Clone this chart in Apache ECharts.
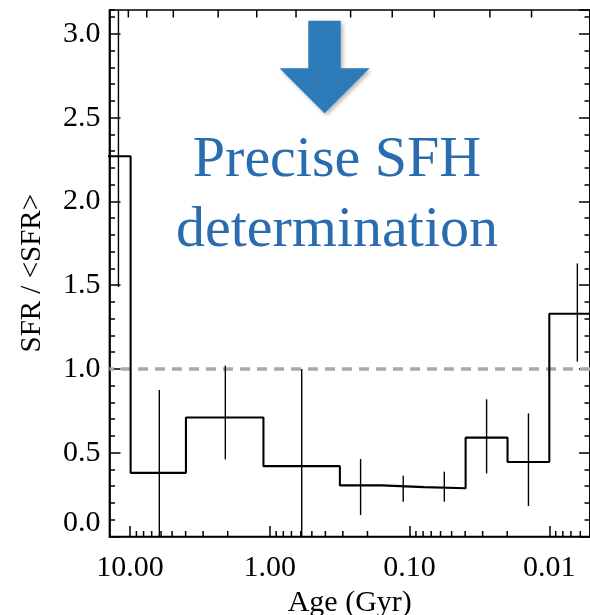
<!DOCTYPE html>
<html><head><meta charset="utf-8">
<script src="https://cdn.jsdelivr.net/npm/echarts@6/dist/echarts.min.js"></script>
<style>html,body{margin:0;padding:0;background:#fff}#c{width:590px;height:615px}</style>
</head><body><div id="c"></div>
<script>
// Bin edges (age in Gyr) and SFR / <SFR> values of each bin
const binEdges = [14.9, 9.9, 3.98, 1.11, 0.315, 0.158, 0.0785, 0.0397, 0.0199, 0.0100, 0.00398];
const sfrValues = [2.27, 0.38, 0.71, 0.42, 0.305, 0.295, 0.288, 0.59, 0.445, 1.33];
// Error bars: age position, lower and upper ends
const errAges = [12.1, 6.17, 2.08, 0.591, 0.224, 0.111, 0.0564, 0.0281, 0.0141, 0.0063];
const errLow  = [1.49, -0.2, 0.46, -0.2, 0.128, 0.208, 0.208, 0.377, 0.182, 1.044];
const errHigh = [3.5, 0.875, 1.02, 1.0, 0.463, 0.363, 0.387, 0.819, 0.735, 1.63];
// Reference level
const meanLevel = 1.0;
// Axis ticks
const xMinorTicks = [9, 8, 7, 6, 5, 4, 3, 2, 0.9, 0.8, 0.7, 0.6, 0.5, 0.4, 0.3, 0.2,
  0.09, 0.08, 0.07, 0.06, 0.05, 0.04, 0.03, 0.02, 0.009, 0.008, 0.007, 0.006];
const topTicks = [10.28, 7.59, 4.90, 2.34, 1.24, 0.649, 0.264, 0.133, 0.0665, 0.0266, 0.0134];
const xRange = [0.005115, 14.02];
const yRange = [0, 3.143];

const FONT = 'Liberation Serif';
const INK = '#000';

const stepPts = [];
sfrValues.forEach((v, i) => { stepPts.push([binEdges[i], v]); stepPts.push([binEdges[i + 1], v]); });
const errData = errAges.map((a, i) => [a, errLow[i], errHigh[i]]);

const chart = echarts.init(document.getElementById('c'), null, {renderer: 'canvas'});

function yAxisDef(pos, interval, tickLen, withLabels, withLine) {
  return {
    type: 'value', position: pos, min: yRange[0], max: yRange[1], interval: interval,
    axisLine: {show: withLine, lineStyle: {color: INK, width: 1.7}},
    axisTick: {show: true, inside: true, length: tickLen, lineStyle: {color: INK, width: 1.5}},
    axisLabel: withLabels ? {
      show: true, showMaxLabel: false, margin: 9, color: INK, fontFamily: FONT, fontSize: 30,
      formatter: v => v === 0 ? '{z|0.0}' : v.toFixed(1),
      rich: {z: {fontFamily: FONT, fontSize: 30, color: INK, padding: [0, 0, 27, 0]}}
    } : {show: false},
    splitLine: {show: false},
    name: withLabels ? 'SFR / <SFR>' : '',
    nameLocation: 'middle', nameGap: 63,
    nameTextStyle: {fontFamily: FONT, fontSize: 29, color: INK}
  };
}

const option = {
  animation: false,
  grid: {left: 109.5, right: 0, top: 10, bottom: 78.5, containLabel: false, outerBoundsMode: 'none',
    show: true, borderColor: INK, borderWidth: 1.7},
  xAxis: [{
    type: 'log', logBase: 10, min: xRange[0], max: xRange[1], inverse: true,
    axisLine: {show: true, lineStyle: {color: INK, width: 1.7}},
    axisTick: {show: true, inside: true, length: 10.5, lineStyle: {color: INK, width: 1.5}},
    axisLabel: {show: true, interval: 0, showMinLabel: false, showMaxLabel: false, margin: 17,
      color: INK, fontFamily: FONT, fontSize: 30, formatter: v => Number(v).toFixed(2)},
    splitLine: {show: false},
    name: 'Age (Gyr)', nameLocation: 'middle', nameGap: 47,
    nameTextStyle: {fontFamily: FONT, fontSize: 30, color: INK}
  }],
  yAxis: [
    yAxisDef('left', 0.5, 11, true, true),
    yAxisDef('left', 0.1, 5.5, false, false),
    yAxisDef('right', 0.5, 11, false, true),
    yAxisDef('right', 0.1, 5.5, false, false)
  ],
  series: [
    {
      type: 'line', data: stepPts, symbol: 'none', clip: true,
      lineStyle: {color: INK, width: 2.1}, z: 5,
      markLine: {
        silent: true, symbol: ['none', 'none'], label: {show: false},
        lineStyle: {type: [10, 7], color: '#aaaaaa', width: 3.5},
        data: [{yAxis: meanLevel}]
      }
    },
    {
      type: 'custom', data: errData, encode: {x: 0, y: [1, 2]}, z: 6,
      renderItem: (params, api) => {
        const cs = params.coordSys;
        const p1 = api.coord([api.value(0), api.value(1)]);
        const p2 = api.coord([api.value(0), api.value(2)]);
        const yb = cs.y + cs.height, yt = cs.y;
        return {type: 'line', shape: {x1: p1[0], y1: Math.min(p1[1], yb), x2: p2[0], y2: Math.max(p2[1], yt)},
          style: {stroke: INK, lineWidth: 1.4}};
      }
    },
    {
      type: 'custom', data: xMinorTicks.map(v => [v, 1]), encode: {x: 0, y: 1}, z: 6,
      renderItem: (params, api) => {
        const cs = params.coordSys;
        const x = api.coord([api.value(0), 1])[0];
        const yb = cs.y + cs.height;
        return {type: 'line', shape: {x1: x, y1: yb, x2: x, y2: yb - 5.5}, style: {stroke: INK, lineWidth: 1.5}};
      }
    },
    {
      type: 'custom', data: topTicks.map(v => [v, 1]), encode: {x: 0, y: 1}, z: 6,
      renderItem: (params, api) => {
        const cs = params.coordSys;
        const x = api.coord([api.value(0), 1])[0];
        const yt = cs.y;
        return {type: 'line', shape: {x1: x, y1: yt, x2: x, y2: yt + 7.5}, style: {stroke: INK, lineWidth: 1.5}};
      }
    }
  ],
  graphic: [
    {
      type: 'polygon', z: 100,
      shape: {points: [[308.3, 20.7], [340.7, 20.7], [340.7, 68.3], [369.5, 68.3], [324.5, 113.3], [279.5, 68.3], [308.3, 68.3]]},
      style: {fill: '#2d7bb9', shadowBlur: 4, shadowOffsetX: 2, shadowOffsetY: 2, shadowColor: 'rgba(0,0,0,0.3)'}
    },
    {
      type: 'text', z: 100, x: 337, y: 161,
      style: {text: 'Precise SFH', fill: '#2a6cb0', font: '58px "Liberation Serif"', textAlign: 'center', textVerticalAlign: 'middle'}
    },
    {
      type: 'text', z: 100, x: 337, y: 231,
      style: {text: 'determination', fill: '#2a6cb0', font: '58px "Liberation Serif"', textAlign: 'center', textVerticalAlign: 'middle'}
    }
  ]
};
chart.setOption(option);
</script>
</body></html>
